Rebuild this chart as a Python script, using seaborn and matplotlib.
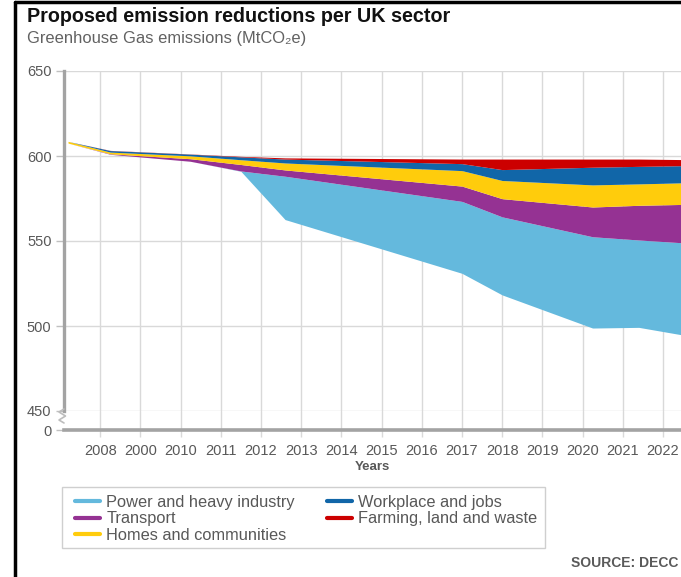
import matplotlib
matplotlib.use("Agg")
import matplotlib.pyplot as plt
from matplotlib.lines import Line2D
from matplotlib.patches import Rectangle
import seaborn as sns

# ---------------- data ----------------
year_labels = ["2008", "2000", "2010", "2011", "2012", "2013", "2014", "2015",
               "2016", "2017", "2018", "2019", "2020", "2021", "2022"]
# x positions of the data points, in tick-slot units (0 = first tick "2008")
x_pos = [-0.8, 0.25, 2.24, 3.5, 4.6, 9.0, 10.0, 12.25, 13.4, 14.45]
# remaining emissions (lower edge of the stack)
remaining = [607.6, 601.0, 596.9, 591.0, 562.6, 531.0, 518.3, 498.8, 499.2, 494.9]
# reductions by sector (thickness of each band)
power = [0.0, 0.0, 0.0, 0.2, 25.5, 42.3, 45.9, 53.7, 51.4, 54.1]
transport = [0.0, 0.3, 1.5, 3.8, 3.7, 9.0, 10.7, 17.5, 20.4, 22.5]
homes = [1.0, 1.0, 1.7, 2.8, 4.1, 9.1, 10.7, 13.0, 12.6, 12.7]
workplace = [0.0, 0.9, 1.0, 1.7, 2.3, 4.1, 6.4, 10.4, 10.3, 10.1]
farming = [0.0, 0.1, 0.1, 0.3, 0.7, 2.7, 6.2, 4.8, 4.3, 3.6]

legend_order = ["Power and heavy industry", "Transport", "Homes and communities",
                "Workplace and jobs", "Farming, land and waste"]
y_ticks = [450, 500, 550, 600, 650]

colors = {
    "Power and heavy industry": "#64b9dd",
    "Transport": "#953293",
    "Homes and communities": "#ffcc0c",
    "Workplace and jobs": "#1166a8",
    "Farming, land and waste": "#cc0000",
}

# ---------------- style ----------------
sns.set_theme(style="white")
plt.rcParams["font.family"] = ["Liberation Sans", "DejaVu Sans"]

W, H = 681, 577
fig = plt.figure(figsize=(W / 100, H / 100), dpi=100)


def frame(x0, y0, x1, y1):
    return [x0 / W, 1 - y1 / H, (x1 - x0) / W, (y1 - y0) / H]


ax = fig.add_axes(frame(64, 71, 681, 411))
ax0 = fig.add_axes(frame(64, 411, 681, 430), sharex=ax)

grid_c = "#d9d9d9"
axis_c = "#a3a3a3"
text_c = "#585858"

# stacked areas
layers = ax.stackplot(
    x_pos, remaining, power, transport, homes, workplace, farming,
    colors=["none", colors["Power and heavy industry"], colors["Transport"],
            colors["Homes and communities"], colors["Workplace and jobs"],
            colors["Farming, land and waste"]],
    zorder=2, linewidth=0,
)
layers[0].set_facecolor("none")

ax.set_xlim(-0.9, 14.45)
ax.set_ylim(450, 650)
ax.set_yticks(y_ticks)
ax.set_yticklabels([str(v) for v in y_ticks])
ax.set_xticks(range(len(year_labels)))
ax.grid(True, color=grid_c, lw=1, zorder=0)
ax.set_axisbelow(True)
for s in ["top", "right", "bottom"]:
    ax.spines[s].set_visible(False)
ax.spines["left"].set_color(axis_c)
ax.spines["left"].set_linewidth(2.4)
ax.tick_params(axis="x", length=0, labelbottom=False)
ax.tick_params(axis="y", left=True, length=6, color="#c0c0c0", width=1,
               labelsize=10.5, labelcolor=text_c, pad=3)

# lower broken segment with the 0 baseline
ax0.set_ylim(0, 1)
ax0.set_yticks([0])
ax0.set_yticklabels(["0"])
ax0.grid(True, axis="x", color=grid_c, lw=1, zorder=0)
ax0.set_facecolor("none")
for s in ["top", "right", "left"]:
    ax0.spines[s].set_visible(False)
ax0.spines["bottom"].set_color(axis_c)
ax0.spines["bottom"].set_linewidth(2.6)
ax0.set_xticks(range(len(year_labels)))
ax0.set_xticklabels(year_labels)
ax0.tick_params(axis="x", bottom=True, length=5, color=grid_c, width=1,
                labelsize=10.5, labelcolor=text_c, pad=5)
ax0.tick_params(axis="y", left=True, length=6, color="#c0c0c0", width=1,
                labelsize=10.5, labelcolor=text_c, pad=3)
ax0.set_xlabel("Years", fontsize=9.5, fontweight="bold", color=text_c, labelpad=2)

# zig-zag axis break mark
px_to_fig = matplotlib.transforms.Affine2D().scale(1 / W, -1 / H).translate(0, 1) + fig.transFigure
zx = [0.0, -5.0, 1.5, -5.0, 0.0]
zy = [2.0, 5.0, 9.0, 13.0, 16.0]
ax0.plot([64 + dx for dx in zx], [407 + dy for dy in zy], color="#bdbdbd", lw=1.2,
         transform=px_to_fig, clip_on=False)

# titles
fig.text(27 / W, 1 - 17 / H, "Proposed emission reductions per UK sector",
         fontsize=14.2, fontweight="bold", color="#111111", va="center", ha="left")
fig.text(27 / W, 1 - 38 / H, "Greenhouse Gas emissions (MtCO₂e)",
         fontsize=11.9, color="#626262", va="center", ha="left")
fig.text(678 / W, 1 - 563 / H, "SOURCE: DECC", fontsize=10, fontweight="bold",
         color="#5a5a5a", va="center", ha="right")

# legend box
fig.add_artist(Rectangle((62 / W, 1 - 548 / H), (545 - 62) / W, (548 - 487) / H,
                         transform=fig.transFigure, facecolor="white",
                         edgecolor="#cfcfcf", lw=1))
handles = [Line2D([0], [0], color=colors[n], lw=3) for n in legend_order]
leg = fig.legend(handles, legend_order, loc="upper left", bbox_to_anchor=(75 / W, 1 - 495 / H),
                 ncol=2, frameon=False, fontsize=11.8, handlelength=1.55,
                 handletextpad=0.35, labelspacing=0.08, columnspacing=1.95, borderpad=0,
                 borderaxespad=0, labelcolor=text_c)

# outer black frame (left and top)
fig.add_artist(Line2D([15 / W, 15 / W], [0, 1 - 2 / H], color="black", lw=2.5,
                      transform=fig.transFigure))
fig.add_artist(Line2D([15 / W, 1], [1 - 2 / H, 1 - 2 / H], color="black", lw=2.5,
                      transform=fig.transFigure))

fig.savefig("out.png", dpi=100)
